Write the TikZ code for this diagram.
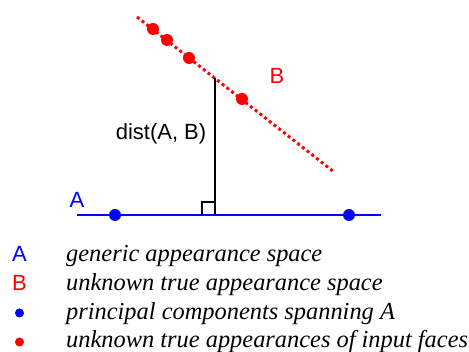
\documentclass[tikz,border=0pt]{standalone}
\usepackage{fontspec}
\setmainfont{Liberation Serif}
\setsansfont{Liberation Sans}
\usetikzlibrary{positioning}
\definecolor{cbleu}{RGB}{0,0,255}
\definecolor{crouge}{RGB}{255,0,0}

\begin{document}
\begin{tikzpicture}[x=1pt, y=-1pt,
  lab/.style={font=\sffamily\fontsize{22}{22}\selectfont, inner sep=0pt},
  leg/.style={font=\itshape\fontsize{24.4}{24.4}\selectfont, anchor=base west, inner sep=0pt},
  pt/.style={circle, fill, inner sep=0pt, minimum size=12pt},
  petitpt/.style={circle, fill, inner sep=0pt, minimum size=9pt}]
\useasboundingbox (0,0) rectangle (469,352);
% espace B (pointille) et ses points
\coordinate (B1) at (137,17);
\coordinate (B2) at (334,172);
\draw[crouge, line width=3pt, dash pattern=on 3pt off 3pt] (B1) -- (B2);
\foreach \x/\y [count=\i] in {153/29, 167/40, 189/58, 242/99}
  \node[pt, crouge] (b\i) at (\x,\y) {};
\node[lab, crouge] (labB) at (277,76) {B};
% espace A et composantes principales
\coordinate (A1) at (77,215);
\coordinate (A2) at (381,215);
\draw[cbleu, line width=2pt] (A1) -- (A2);
\node[pt, cbleu] (a1) at (115,215) {};
\node[pt, cbleu] (a2) at (349,215) {};
\node[lab, cbleu] (labA) at (77,200) {A};
% distance
\coordinate (P) at (215,78);
\coordinate (F) at (215,215);
\draw[line width=1.5pt] (P) -- (F);
\draw[line width=1.5pt] (F) ++(-13,0) |- ++(13,-13);
\node[lab] (dist) at (161,134) {dist(A, B)};
% legende
\node[lab, cbleu, anchor=base] (symA) at (19.5,262) {A};
\node[leg] (txtA) at (66,262) {generic appearance space};
\node[lab, crouge, anchor=base] (symB) at (19.5,291) {B};
\node[leg] (txtB) at (66,291) {unknown true appearance space};
\node[petitpt, cbleu] (symPC) at (19.5,313) {};
\node[leg] (txtPC) at (66,320) {principal components spanning \textit{A}};
\node[petitpt, crouge] (symF) at (19.5,342) {};
\node[leg] (txtF) at (66,348) {unknown true appearances of input faces};
\end{tikzpicture}
\end{document}
